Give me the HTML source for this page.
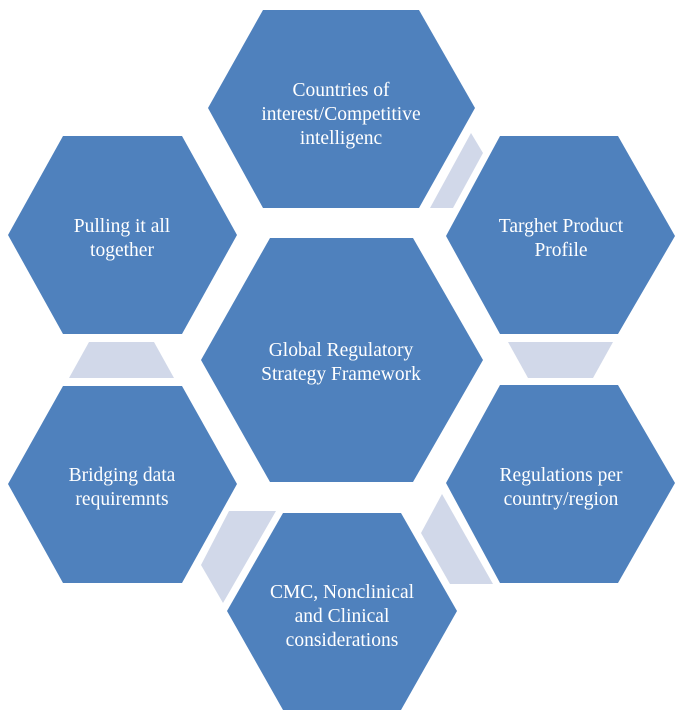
<!DOCTYPE html>
<html><head><meta charset="utf-8"><style>
html,body{margin:0;padding:0;background:#fff;}
svg{display:block;}
text{font-family:"Liberation Serif",serif;font-size:19.5px;fill:#fff;text-anchor:middle;}
</style></head><body>
<svg width="685" height="718" viewBox="0 0 685 718" xmlns="http://www.w3.org/2000/svg">
<g fill="#D1D8E9">
<polygon points="471,133 483,153 453,208 430,208"/>
<polygon points="508,342 613,342 593,378 528,378"/>
<polygon points="442,494 421,533 450,584 493,584"/>
<polygon points="229,511 276,511 223,603 201,565"/>
<polygon points="89,342 154,342 174,378 69,378"/>
</g>
<g fill="#4F81BD">
<polygon points="208,108 263,10 419,10 475,108 419,208 263,208"/>
<polygon points="8,235 63,136 182,136 237,235 182,334 63,334"/>
<polygon points="446,236 500,136 618,136 675,236 618,334 500,334"/>
<polygon points="201,360 270,238 413,238 483,360 413,482 270,482"/>
<polygon points="8,484 63,386 182,386 237,484 182,583 63,583"/>
<polygon points="446,483 500,385 618,385 675,483 618,583 500,583"/>
<polygon points="227,611 283,513 401,513 457,611 401,710 283,710"/>
</g>
<text x="341" y="96">Countries of</text>
<text x="341" y="120">interest/Competitive</text>
<text x="341" y="144">intelligenc</text>
<text x="561" y="232">Targhet Product</text>
<text x="561" y="256">Profile</text>
<text x="122" y="232">Pulling it all</text>
<text x="122" y="256">together</text>
<text x="341" y="356">Global Regulatory</text>
<text x="341" y="380">Strategy Framework</text>
<text x="122" y="481">Bridging data</text>
<text x="122" y="505">requiremnts</text>
<text x="561" y="481">Regulations per</text>
<text x="561" y="505">country/region</text>
<text x="342" y="598">CMC, Nonclinical</text>
<text x="342" y="622">and Clinical</text>
<text x="342" y="646">considerations</text>
</svg>
</body></html>
